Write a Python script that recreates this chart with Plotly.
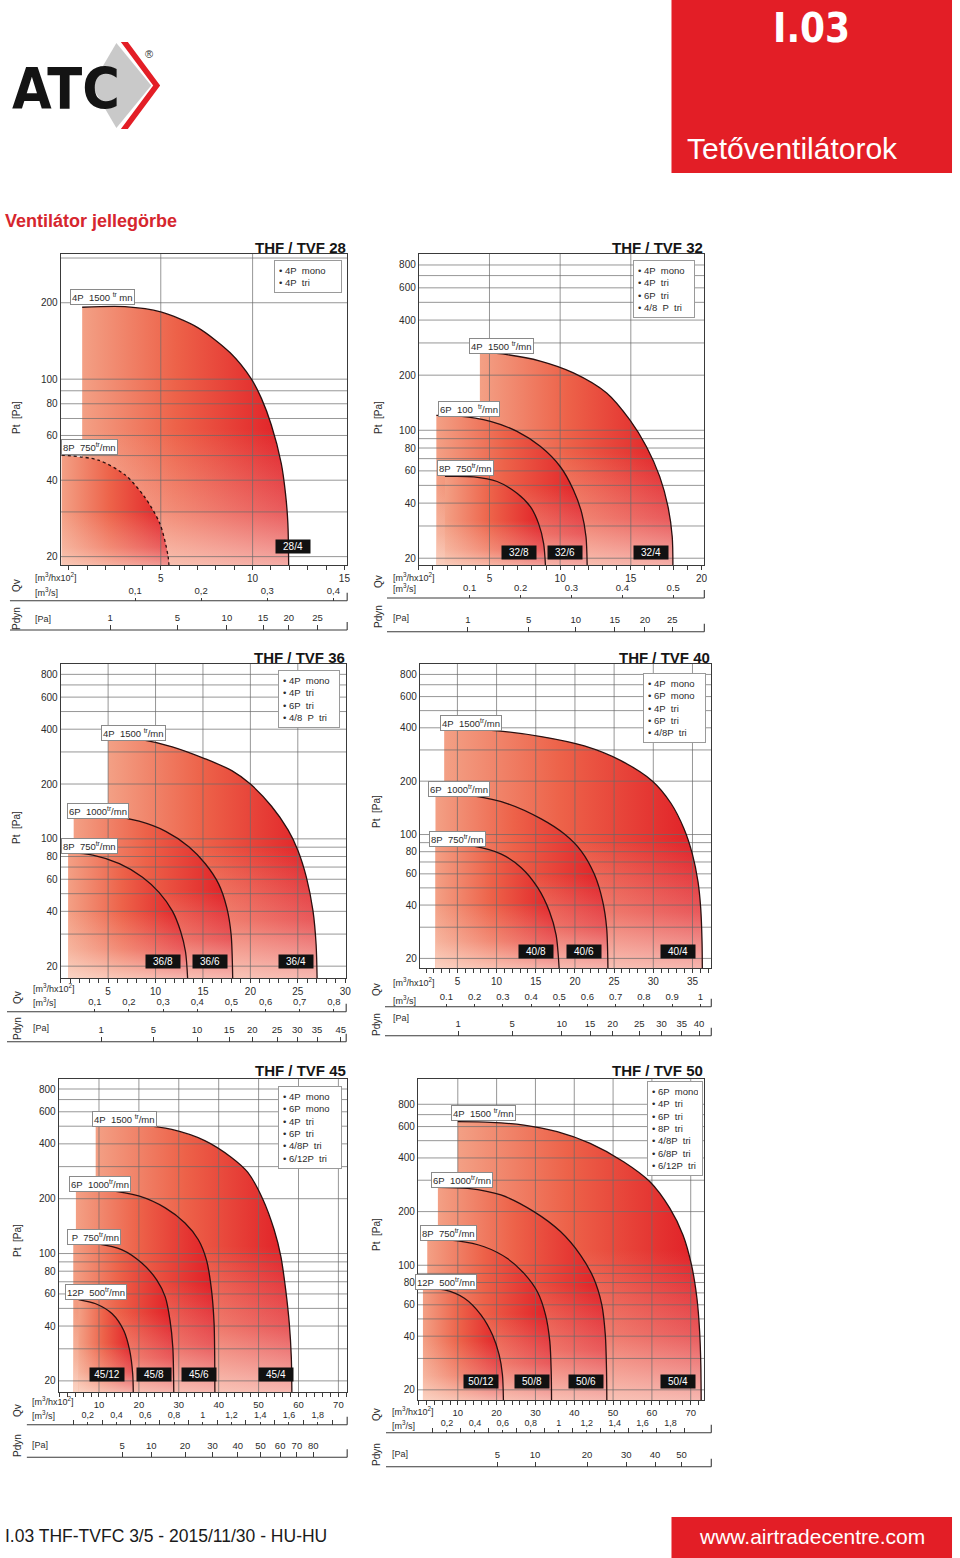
import plotly.graph_objects as go

W, H = 960, 1558


def X(px):
    return px / W


def Y(py):
    return 1 - py / H


# ---- THF / TVF 28 : Qv [m3/h x100] vs Pt [Pa]
tvf28_4p_q = [0.72, 3.05, 5.0, 6.99, 8.78, 9.91, 10.48, 11.02, 11.56, 11.79, 11.92, 11.97]
tvf28_4p_pt = [192, 193, 184, 160, 127, 100.7, 84, 66, 46.6, 35.5, 27.1, 16.5]
tvf28_8p_q = [-0.4, 1.6, 3.05, 4.1, 4.95, 5.4, 5.47]
tvf28_8p_pt = [50.2, 48, 42, 34.5, 27, 20, 16.5]
tvf28_labels = ["4P\u00a0\u00a01500 <sup>tr</sup> mn", "8P\u00a0\u00a0750<sup>tr</sup>/mn"]
tvf28_badges = ["28/4"]
tvf28_motors = ["4P  mono", "4P  tri"]
tvf28_ms = [0.1, 0.2, 0.3, 0.4]
tvf28_ms_text = ["0,1", "0,2", "0,3", "0,4"]
tvf28_pdyn_at = [2.24, 5.91, 8.6, 10.57, 11.97, 13.53]
tvf28_pdyn_text = ["1", "5", "10", "15", "20", "25"]

# ---- THF / TVF 32
tvf32_4p_q = [4.32, 6.24, 8.59, 10.94, 13.29, 14.93, 16.1, 17.04, 17.63, 17.93, 17.98]
tvf32_4p_pt = [267, 259, 239, 206, 160, 114, 81.6, 56, 38.3, 26.2, 16.5]
tvf32_6p_q = [1.24, 2.72, 5.07, 6.95, 8.59, 10.0, 10.94, 11.53, 11.83, 11.92]
tvf32_6p_pt = [120.7, 120, 112, 98.6, 81.7, 63.4, 47.2, 35.3, 26.2, 16.5]
tvf32_8p_q = [1.85, 3.9, 5.54, 6.95, 7.89, 8.47, 8.83, 8.99]
tvf32_8p_pt = [56, 55.7, 52.5, 45.3, 38.3, 31, 24.1, 16.5]
tvf32_labels = ["4P\u00a0\u00a01500 <sup>tr</sup>/mn", "6P\u00a0\u00a0100\u00a0\u00a0<sup>tr</sup>/mn",
                "8P\u00a0\u00a0750<sup>tr</sup>/mn"]
tvf32_badges = ["32/8", "32/6", "32/4"]
tvf32_motors = ["4P  mono", "4P  tri", "6P  tri", "4/8  P  tri"]
tvf32_ms = [0.1, 0.2, 0.3, 0.4, 0.5]
tvf32_ms_text = ["0.1", "0.2", "0.3", "0.4", "0.5"]
tvf32_pdyn_at = [3.47, 7.77, 11.1, 13.87, 16.0, 17.93]
tvf32_pdyn_text = ["1", "5", "10", "15", "20", "25"]

# ---- THF / TVF 36
tvf36_4p_q = [5.0, 8.27, 11.76, 15.24, 18.04, 20.0, 22.23, 23.97, 25.0, 25.9, 26.6, 26.93, 27.04]
tvf36_4p_pt = [367, 353, 320, 275, 237, 200, 151, 112, 86.7, 61.7, 40.2, 26.2, 16.5]
tvf36_6p_q = [1.37, 5.14, 8.27, 11.07, 13.51, 15.25, 16.65, 17.51, 17.97, 18.14]
tvf36_6p_pt = [135, 134, 125, 110, 90.6, 73, 56.6, 41.9, 29.8, 16.5]
tvf36_8p_q = [0.78, 3.39, 6.19, 8.63, 10.37, 11.77, 12.64, 13.16, 13.4]
tvf36_8p_pt = [84, 81.5, 73.1, 61.6, 50.8, 40.2, 31.1, 24, 16.5]
tvf36_labels = ["4P\u00a0\u00a01500 <sup>tr</sup>/mn", "6P\u00a0\u00a01000<sup>tr</sup>/mn",
                "8P\u00a0\u00a0750<sup>tr</sup>/mn"]
tvf36_badges = ["36/8", "36/6", "36/4"]
tvf36_motors = ["4P  mono", "4P  tri", "6P  tri", "4/8  P  tri"]
tvf36_ms = [0.1, 0.2, 0.3, 0.4, 0.5, 0.6, 0.7, 0.8]
tvf36_ms_text = ["0,1", "0,2", "0,3", "0,4", "0,5", "0,6", "0,7", "0,8"]
tvf36_pdyn_at = [4.27, 9.77, 14.38, 17.76, 20.2, 22.81, 24.94, 27.03, 29.54]
tvf36_pdyn_text = ["1", "5", "10", "15", "20", "25", "30", "35", "45"]

# ---- THF / TVF 40
tvf40_4p_q = [3.31, 9.33, 15.69, 21.2, 25.87, 29.9, 32.23, 33.93, 34.99, 35.71, 36.05, 36.22, 36.26]
tvf40_4p_pt = [394, 387, 357, 316, 261, 200, 150.6, 107.5, 77.5, 54.1, 38.5, 24.9, 16.5]
tvf40_6p_q = [2.2, 7.21, 11.45, 15.69, 18.66, 20.78, 22.48, 23.54, 24.05, 24.22]
tvf40_6p_pt = [168.6, 164.5, 149, 122.5, 100.6, 80.9, 59.6, 42, 29.6, 16.5]
tvf40_8p_q = [2.2, 7.21, 10.6, 13.15, 15.27, 16.75, 17.6, 18.02]
tvf40_8p_pt = [87.2, 85.7, 77.5, 65, 50, 36.8, 27.1, 16.5]
tvf40_labels = ["4P\u00a0\u00a01500<sup>tr</sup>/mn", "6P\u00a0\u00a01000<sup>tr</sup>/mn",
                "8P\u00a0\u00a0750<sup>tr</sup>/mn"]
tvf40_badges = ["40/8", "40/6", "40/4"]
tvf40_motors = ["4P  mono", "6P  mono", "4P  tri", "6P  tri", "4/8P  tri"]
tvf40_ms = [0.1, 0.2, 0.3, 0.4, 0.5, 0.6, 0.7, 0.8, 0.9, 1.0]
tvf40_ms_text = ["0.1", "0.2", "0.3", "0.4", "0.5", "0.6", "0.7", "0.8", "0.9", "1"]
tvf40_pdyn_at = [5.09, 12.0, 18.32, 21.93, 24.81, 28.2, 31.04, 33.63, 35.84]
tvf40_pdyn_text = ["1", "5", "10", "15", "20", "25", "30", "35", "40"]

# ---- THF / TVF 45
tvf45_4p_q = [9.17, 19.95, 28.24, 36.5, 43.2, 47.3, 51.0, 53.9, 55.6, 56.8, 57.7, 58.2, 58.35]
tvf45_4p_pt = [520, 509, 480, 417, 337, 279, 200, 135, 96, 63, 41.1, 26.9, 16.5]
tvf45_6p_q = [4.21, 11.65, 19.95, 26.6, 31.55, 34.9, 36.95, 38.2, 38.85, 39.0, 39.05]
tvf45_6p_pt = [227, 223, 207, 178, 147, 119, 92, 63, 41.1, 26.9, 16.5]
tvf45_8p_q = [3.55, 10.0, 15.8, 20.8, 24.5, 26.6, 27.8, 28.5, 28.75]
tvf45_8p_pt = [114, 112.7, 104.8, 88.4, 71.5, 57.8, 43, 30.6, 16.5]
tvf45_12p_q = [4.86, 9.17, 13.3, 16.2, 17.7, 18.45, 18.6]
tvf45_12p_pt = [55.9, 53, 46.7, 37.8, 29.3, 21.8, 16.5]
tvf45_labels = ["4P\u00a0\u00a01500 <sup>tr</sup>/mn", "6P\u00a0\u00a01000<sup>tr</sup>/mn",
                "\u00a0P\u00a0\u00a0750<sup>tr</sup>/mn", "12P\u00a0\u00a0500<sup>tr</sup>/mn"]
tvf45_badges = ["45/12", "45/8", "45/6", "45/4"]
tvf45_motors = ["4P  mono", "6P  mono", "4P  tri", "6P  tri", "4/8P  tri", "6/12P  tri"]
tvf45_ms = [0.2, 0.4, 0.6, 0.8, 1.0, 1.2, 1.4, 1.6, 1.8]
tvf45_ms_text = ["0,2", "0,4", "0,6", "0,8", "1", "1,2", "1,4", "1,6", "1,8"]
tvf45_pdyn_at = [15.8, 23.1, 31.56, 38.45, 44.8, 50.5, 55.4, 59.6, 63.7]
tvf45_pdyn_text = ["5", "10", "20", "30", "40", "50", "60", "70", "80"]

# ---- THF / TVF 50
tvf50_4p_q = [9.99, 18.5, 27.06, 35.6, 44.1, 52.7, 59.5, 64.6, 68.0, 70.2, 71.6, 72.3, 72.6, 72.7]
tvf50_4p_pt = [639, 634, 612, 562, 483, 381, 294, 209, 148, 100.4, 65.3, 42.4, 27.6, 16.5]
tvf50_6p_q = [4.87, 12.55, 21.1, 29.6, 36.45, 41.6, 45.0, 47.1, 48.0, 48.3, 48.4]
tvf50_6p_pt = [274, 270, 248, 200, 154.5, 114, 84.5, 60, 40.6, 26.5, 16.5]
tvf50_8p_q = [2.13, 9.99, 16.8, 22.8, 27.06, 30.5, 32.6, 33.7, 34.06, 34.15]
tvf50_8p_pt = [140, 137, 127, 109, 90, 71, 52.7, 37.4, 25.4, 16.5]
tvf50_12p_q = [1.02, 6.57, 11.7, 15.96, 18.95, 20.66, 21.5, 21.77]
tvf50_12p_pt = [74.3, 72.7, 65.3, 52.7, 40.6, 31.4, 24.3, 16.5]
tvf50_labels = ["4P\u00a0\u00a01500 <sup>tr</sup>/mn", "6P\u00a0\u00a01000<sup>tr</sup>/mn",
                "8P\u00a0\u00a0750<sup>tr</sup>/mn", "12P\u00a0\u00a0500<sup>tr</sup>/mn"]
tvf50_badges = ["50/12", "50/8", "50/6", "50/4"]
tvf50_motors = ["6P  mono", "4P  tri", "6P  tri", "8P  tri", "4/8P  tri", "6/8P  tri", "6/12P  tri"]
tvf50_ms = [0.2, 0.4, 0.6, 0.8, 1.0, 1.2, 1.4, 1.6, 1.8]
tvf50_ms_text = ["0,2", "0,4", "0,6", "0,8", "1", "1,2", "1,4", "1,6", "1,8"]
tvf50_pdyn_at = [20.23, 29.9, 43.3, 53.4, 60.8, 67.6]
tvf50_pdyn_text = ["5", "10", "20", "30", "40", "50"]

pt_grid = [20, 30, 40, 50, 60, 70, 80, 90, 100, 200, 300, 400, 500, 600, 700, 800]
pt_ticks_small = [20, 40, 60, 80, 100, 200]
pt_ticks = [20, 40, 60, 80, 100, 200, 400, 600, 800]

panels = [
    dict(title="THF / TVF 28", box=(61, 254, 349, 565), xr=[-0.45, 15.15], yr=[1.268, 2.493],
         qticks=[5, 10, 15], qstep=1, vgrid=[5, 10], yticks=pt_ticks_small,
         curves=[(tvf28_4p_q, tvf28_4p_pt, "solid"), (tvf28_8p_q, tvf28_8p_pt, "dot")],
         labels=tvf28_labels, label_xy=[(103, 297), (90, 447)],
         badges=tvf28_badges, badge_xy=[(295, 546)],
         motors=tvf28_motors, motor_box=(275, 260, 58),
         ms=tvf28_ms, ms_text=tvf28_ms_text, ms_minor=False,
         pdyn_at=tvf28_pdyn_at, pdyn_text=tvf28_pdyn_text,
         ms_line=600.7, pdyn_line=630, line_x=(10, 349), unit_x=33, unit_y=(577, 592, 619),
         side_x=17, side_y=(417, 585, 618), title_y=247),
    dict(title="THF / TVF 32", box=(421, 254, 708, 565), xr=[0, 20.2], yr=[1.264, 2.963],
         qticks=[5, 10, 15, 20], qstep=1, vgrid=[5, 10, 15], yticks=pt_ticks,
         curves=[(tvf32_4p_q, tvf32_4p_pt, "solid"), (tvf32_6p_q, tvf32_6p_pt, "solid"),
                 (tvf32_8p_q, tvf32_8p_pt, "solid")],
         labels=tvf32_labels, label_xy=[(504, 346), (471, 409), (468, 468)],
         badges=tvf32_badges, badge_xy=[(522, 552), (568, 552), (654, 552)],
         motors=tvf32_motors, motor_box=(636, 260, 52),
         ms=tvf32_ms, ms_text=tvf32_ms_text, ms_minor=False,
         pdyn_at=tvf32_pdyn_at, pdyn_text=tvf32_pdyn_text,
         ms_line=598, pdyn_line=631.7, line_x=(389, 708), unit_x=393, unit_y=(577, 588, 618),
         side_x=380, side_y=(418, 582, 617), title_y=247),
    dict(title="THF / TVF 36", box=(61, 664, 348, 978), xr=[0, 30.1], yr=[1.236, 2.960],
         qticks=[5, 10, 15, 20, 25, 30], qstep=1, vgrid=[5, 10, 15, 20, 25], yticks=pt_ticks,
         curves=[(tvf36_4p_q, tvf36_4p_pt, "solid"), (tvf36_6p_q, tvf36_6p_pt, "solid"),
                 (tvf36_8p_q, tvf36_8p_pt, "solid")],
         labels=tvf36_labels, label_xy=[(134, 733), (99, 811), (90, 846)],
         badges=tvf36_badges, badge_xy=[(164, 961), (211, 961), (298, 961)],
         motors=tvf36_motors, motor_box=(279, 670, 52),
         ms=tvf36_ms, ms_text=tvf36_ms_text, ms_minor=False,
         pdyn_at=tvf36_pdyn_at, pdyn_text=tvf36_pdyn_text,
         ms_line=1011.7, pdyn_line=1041.7, line_x=(7, 348), unit_x=31, unit_y=(988, 1002, 1028),
         side_x=17, side_y=(827, 997, 1028), title_y=657),
    dict(title="THF / TVF 40", box=(422, 664, 715, 968), xr=[0.2, 37.4], yr=[1.247, 2.962],
         qticks=[5, 10, 15, 20, 25, 30, 35], qstep=1, vgrid=[5, 10, 15, 20, 25, 30, 35], yticks=pt_ticks,
         curves=[(tvf40_4p_q, tvf40_4p_pt, "solid"), (tvf40_6p_q, tvf40_6p_pt, "solid"),
                 (tvf40_8p_q, tvf40_8p_pt, "solid")],
         labels=tvf40_labels, label_xy=[(473, 723), (461, 789), (460, 839)],
         badges=tvf40_badges, badge_xy=[(539, 952), (587, 952), (682, 952)],
         motors=tvf40_motors, motor_box=(646, 673, 53),
         ms=tvf40_ms, ms_text=tvf40_ms_text, ms_minor=False,
         pdyn_at=tvf40_pdyn_at, pdyn_text=tvf40_pdyn_text,
         ms_line=1006.7, pdyn_line=1035.7, line_x=(387, 715), unit_x=393, unit_y=(982, 1000, 1018),
         side_x=378, side_y=(812, 990, 1025), title_y=657),
    dict(title="THF / TVF 45", box=(59, 1079, 349, 1392), xr=[-0.1, 72.2], yr=[1.240, 2.958],
         qticks=[10, 20, 30, 40, 50, 60, 70], qstep=2, vgrid=[10, 20, 30, 40, 50, 60, 70], yticks=pt_ticks,
         curves=[(tvf45_4p_q, tvf45_4p_pt, "solid"), (tvf45_6p_q, tvf45_6p_pt, "solid"),
                 (tvf45_8p_q, tvf45_8p_pt, "solid"), (tvf45_12p_q, tvf45_12p_pt, "solid")],
         labels=tvf45_labels, label_xy=[(125, 1119), (101, 1184), (94, 1237), (97, 1292)],
         badges=tvf45_badges, badge_xy=[(108, 1374), (155, 1374), (200, 1374), (277, 1374)],
         motors=tvf45_motors, motor_box=(279, 1086, 54),
         ms=tvf45_ms, ms_text=tvf45_ms_text, ms_minor=True,
         pdyn_at=tvf45_pdyn_at, pdyn_text=tvf45_pdyn_text,
         ms_line=1424.7, pdyn_line=1457.3, line_x=(27, 349), unit_x=30, unit_y=(1401, 1415, 1445),
         side_x=17, side_y=(1240, 1410, 1445), title_y=1070),
    dict(title="THF / TVF 50", box=(420, 1079, 708, 1400), xr=[-0.3, 73.5], yr=[1.244, 3.045],
         qticks=[10, 20, 30, 40, 50, 60, 70], qstep=2, vgrid=[10, 20, 30, 40, 50, 60, 70], yticks=pt_ticks,
         curves=[(tvf50_4p_q, tvf50_4p_pt, "solid"), (tvf50_6p_q, tvf50_6p_pt, "solid"),
                 (tvf50_8p_q, tvf50_8p_pt, "solid"), (tvf50_12p_q, tvf50_12p_pt, "solid")],
         labels=tvf50_labels, label_xy=[(486, 1113), (464, 1180), (451, 1233), (448, 1282)],
         badges=tvf50_badges, badge_xy=[(484, 1381), (535, 1381), (589, 1381), (682, 1381)],
         motors=tvf50_motors, motor_box=(650, 1081, 46),
         ms=tvf50_ms, ms_text=tvf50_ms_text, ms_minor=True,
         pdyn_at=tvf50_pdyn_at, pdyn_text=tvf50_pdyn_text,
         ms_line=1432.7, pdyn_line=1466.7, line_x=(388, 715), unit_x=392, unit_y=(1410.7, 1425, 1454),
         side_x=378, side_y=(1235, 1415, 1455), title_y=1070),
]

RED = "#e31e26"
INK = "#2b2b2b"
GRID = "#6a6a6a"
FRAME = "#3a3a3a"
OUTLINE = "#2a1010"
FONT = "Liberation Sans, Arial, sans-serif"
NARROW = "Liberation Sans Narrow, DejaVu Sans Condensed, Arial Narrow, sans-serif"
BASE = [[0, "#f3a085"], [0.45, "#ed6249"], [1, "#e01c25"]]
VEIL = [[0, "rgba(253,230,218,0.8)"], [0.25, "rgba(253,230,218,0.3)"], [0.55, "rgba(253,230,218,0)"],
        [1, "rgba(253,230,218,0)"]]

fig = go.Figure()
lay = {}
ann = []
shp = []


def txt(s, px, py, size=10, color=INK, family=FONT, **kw):
    d = dict(text=s, x=X(px), y=Y(py), xref="paper", yref="paper", showarrow=False,
             font=dict(size=size, color=color, family=family))
    d.setdefault("xanchor", "center")
    d.setdefault("yanchor", "middle")
    d.update(kw)
    ann.append(d)


def hline(x0, x1, y, w=1.0, color=FRAME):
    shp.append(dict(type="line", xref="paper", yref="paper", x0=X(x0), x1=X(x1), y0=Y(y), y1=Y(y),
                    line=dict(color=color, width=w)))


for k, p in enumerate(panels, start=1):
    sfx = "" if k == 1 else str(k)
    xa, ya = "x" + sfx, "y" + sfx
    L, T, R, B = p["box"]
    ylo, yhi = 10 ** p["yr"][0], 10 ** p["yr"][1]
    small = p["qticks"][-1] >= 70

    # gradient filled fan areas, biggest first
    for q, pt, dash in p["curves"]:
        grads = (dict(type="horizontal", colorscale=BASE, start=q[0], stop=q[-1]),
                 dict(type="vertical", colorscale=VEIL, start=min(pt), stop=max(pt)))
        for grad in grads:
            fig.add_trace(go.Scatter(
                x=q, y=pt, xaxis=xa, yaxis=ya, mode="lines",
                line=dict(width=0, shape="spline", smoothing=0.8),
                fill="tozeroy", fillgradient=grad, hoverinfo="skip", showlegend=False))

    # grid on top of the fills
    gx, gy = [], []
    for v in pt_grid:
        gx += [p["xr"][0], p["xr"][1], None]
        gy += [v, v, None]
    for v in p["vgrid"]:
        gx += [v, v, None]
        gy += [ylo, yhi, None]
    fig.add_trace(go.Scatter(x=gx, y=gy, xaxis=xa, yaxis=ya, mode="lines",
                             line=dict(color=GRID, width=0.7), hoverinfo="skip", showlegend=False))

    for q, pt, dash in p["curves"]:
        fig.add_trace(go.Scatter(x=q, y=pt, xaxis=xa, yaxis=ya, mode="lines",
                                 line=dict(color=OUTLINE, width=1.3, shape="spline", smoothing=0.8, dash=dash),
                                 hoverinfo="skip", showlegend=False))

    qminor = [v for v in range(-2, int(p["xr"][1]) + 2, p["qstep"]) if v not in p["qticks"]]
    lay["xaxis" + sfx] = dict(
        domain=[X(L), X(R)], range=p["xr"], anchor=ya, tickmode="array", tickvals=p["qticks"],
        ticks="outside", ticklen=4, tickcolor=FRAME, showline=True, mirror=True, linecolor=FRAME,
        linewidth=1, showgrid=False, zeroline=False, tickfont=dict(size=9.5 if small else 10, color=INK),
        minor=dict(tickmode="array", tickvals=qminor, ticks="outside", ticklen=4, tickcolor=FRAME,
                   showgrid=False))
    lay["yaxis" + sfx] = dict(
        domain=[Y(B), Y(T)], range=p["yr"], type="log", anchor=xa, tickmode="array",
        tickvals=p["yticks"], ticktext=[str(v) for v in p["yticks"]], ticks="", showline=True,
        mirror=True, linecolor=FRAME, linewidth=1, showgrid=False, zeroline=False,
        tickfont=dict(size=10, color=INK))

    # secondary scales: m3/s and Pdyn
    ms_id, pd_id = str(6 + k), str(12 + k)
    ms_ax = dict(
        overlaying=xa, anchor="free", position=Y(p["ms_line"]), side="top",
        range=[v / 36 for v in p["xr"]], tickmode="array", tickvals=p["ms"], ticktext=p["ms_text"],
        ticks="outside", ticklen=3, tickcolor=FRAME, showline=False, showgrid=False,
        zeroline=False, tickfont=dict(size=9 if small else 9.5, color=INK))
    if p["ms_minor"]:
        ms_ax["minor"] = dict(tickmode="array", tickvals=[v / 10 for v in range(1, 20, 2)],
                              ticks="outside", ticklen=5, tickcolor=FRAME, showgrid=False)
    lay["xaxis" + ms_id] = ms_ax
    lay["xaxis" + pd_id] = dict(
        overlaying=xa, anchor="free", position=Y(p["pdyn_line"]), side="top",
        range=p["xr"], tickmode="array", tickvals=p["pdyn_at"], ticktext=p["pdyn_text"],
        ticks="outside", ticklen=5, tickcolor=FRAME, showline=False, showgrid=False, zeroline=False,
        tickfont=dict(size=9.5, color=INK))
    fig.add_trace(go.Scatter(x=[p["ms"][0]], y=[ylo * 2], xaxis="x" + ms_id, yaxis=ya, mode="markers",
                             marker=dict(opacity=0), hoverinfo="skip", showlegend=False))
    fig.add_trace(go.Scatter(x=[p["pdyn_at"][0]], y=[ylo * 2], xaxis="x" + pd_id, yaxis=ya, mode="markers",
                             marker=dict(opacity=0), hoverinfo="skip", showlegend=False))

    lx0, lx1 = p["line_x"]
    for yy in (p["ms_line"], p["pdyn_line"]):
        hline(lx0, lx1, yy, 1.1)
        shp.append(dict(type="line", xref="paper", yref="paper", x0=X(lx1), x1=X(lx1),
                        y0=Y(yy), y1=Y(yy - 8), line=dict(color=FRAME, width=1.1)))

    # texts
    txt("<b>" + p["title"] + "</b>", R + 1, p["title_y"], size=15, color="#151515",
        xanchor="right")
    ux = p["unit_x"]
    txt("[m<sup>3</sup>/hx10<sup>2</sup>]", ux, p["unit_y"][0], size=9, xanchor="left")
    txt("[m<sup>3</sup>/s]", ux, p["unit_y"][1], size=9, xanchor="left")
    txt("[Pa]", ux, p["unit_y"][2], size=9, xanchor="left")
    sx = p["side_x"]
    txt("Pt\u00a0\u00a0[Pa]", sx, p["side_y"][0], size=10, textangle=-90)
    txt("Qv", sx, p["side_y"][1], size=10, textangle=-90)
    txt("Pdyn", sx, p["side_y"][2], size=10, textangle=-90)

    mx, my, mw = p["motor_box"]
    body = "<br>".join("\u2022\u00a0" + m.replace("  ", "\u00a0\u00a0") for m in p["motors"])
    txt(body, mx, my, size=9.5, xanchor="left", yanchor="top", align="left", width=mw,
        bgcolor="white", bordercolor="#9a9a9a", borderwidth=1, borderpad=4)

    for s, (cx, cy) in zip(p["labels"], p["label_xy"]):
        txt(s, cx, cy, size=9.5, bgcolor="white", bordercolor="#8a8a8a", borderwidth=1, borderpad=1)
    for s, (cx, cy) in zip(p["badges"], p["badge_xy"]):
        txt(s, cx, cy, size=10, color="white", bgcolor="#111111", borderpad=1, width=32)

# header
shp.append(dict(type="rect", xref="paper", yref="paper", x0=X(675), x1=X(957), y0=Y(173), y1=Y(0),
                fillcolor=RED, line=dict(width=0)))
txt("<b>I.03</b>", 816, 28, size=40, color="white", family=NARROW)
txt("Tetőventilátorok", 797, 148, size=30, color="white")
txt("<b>Ventilátor jellegörbe</b>", 3, 221, size=18, color="#d6262e", xanchor="left")


def poly(pts):
    return "M " + " L ".join("%.5f,%.5f" % (X(a), Y(b)) for a, b in pts) + " Z"


shp.append(dict(type="path", xref="paper", yref="paper",
                path=poly([(117, 43), (152, 85.5), (117, 128), (92, 85.5)]),
                fillcolor="#c9c9c9", line=dict(width=0)))
shp.append(dict(type="path", xref="paper", yref="paper",
                path=poly([(121.5, 42), (128.5, 42), (161, 85.5), (128.5, 129), (121.5, 129), (154, 85.5)]),
                fillcolor=RED, line=dict(width=0)))
txt("<b>ATC</b>", 66, 89, size=57, color="#141414", family=NARROW)
txt("®", 150, 54, size=11, color="#333333")

# footer
shp.append(dict(type="rect", xref="paper", yref="paper", x0=X(675), x1=X(957), y0=Y(1558), y1=Y(1517),
                fillcolor=RED, line=dict(width=0)))
txt("I.03 THF-TVFC 3/5 - 2015/11/30 - HU-HU", 3, 1536, size=17.5, color="#1a1a1a", xanchor="left")
txt("www.airtradecentre.com", 816, 1536, size=21, color="white")

fig.update_layout(
    width=W, height=H, margin=dict(l=0, r=0, t=0, b=0),
    paper_bgcolor="white", plot_bgcolor="white",
    font=dict(family=FONT, color=INK), showlegend=False,
    annotations=ann, shapes=shp, **lay)

fig.write_html("out.html", config={"displayModeBar": False},
               post_script="document.body.style.margin='0';document.body.style.padding='0';"
                           "document.body.style.overflow='hidden';")
